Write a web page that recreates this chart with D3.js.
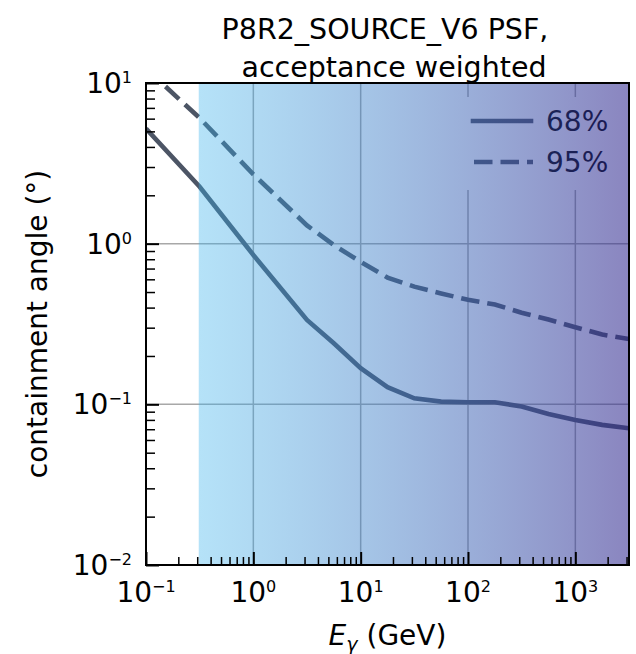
<!DOCTYPE html>
<html>
<head>
<meta charset="utf-8">
<script src="https://cdn.jsdelivr.net/npm/d3@7"></script>
<style>
body { margin: 0; background: #fff; }
svg { font-family: "DejaVu Sans", sans-serif; }
</style>
</head>
<body>
<div id="chart"></div>
<script>
// values (GeV, degrees)
var energy = [0.1, 0.316, 1, 3.16, 5.62, 10, 17.8, 31.6, 56.2, 100, 178, 316, 562, 1000, 1778, 3162];
var psf68 = [5.2, 2.26, 0.85, 0.335, 0.24, 0.168, 0.128, 0.109, 0.104, 0.103, 0.103, 0.097, 0.087, 0.080, 0.0745, 0.071];
var psf95 = [12.3, 6.05, 2.7, 1.3, 0.98, 0.77, 0.615, 0.54, 0.49, 0.447, 0.418, 0.372, 0.337, 0.302, 0.272, 0.255];

var xMajor = [0.1, 1, 10, 100, 1000],
    xExp = ["\u22121", "0", "1", "2", "3"];
var yMajor = [0.01, 0.1, 1, 10],
    yExp = ["\u22122", "\u22121", "0", "1"];

var bandStart = 0.31;   // shaded band begins here
var series = [
    { label: "68%", values: psf68, dash: null },
    { label: "95%", values: psf95, dash: "18.5,8" }
];

var W = 636, H = 654;
var margin = { top: 83, right: 7, bottom: 89, left: 146 },
    w = W - margin.left - margin.right,
    h = H - margin.top - margin.bottom;

var xScale = d3.scaleLog().domain([0.1, 3162]).range([0, w]),
    yScale = d3.scaleLog().domain([0.01, 10]).range([h, 0]);

var lineColor = "#4c5565";

var svg = d3.select("#chart").append("svg")
    .attr("width", W)
    .attr("height", H);

var defs = svg.append("defs");
defs.append("clipPath").attr("id", "plotclip")
    .append("rect").attr("width", w).attr("height", h);

var grad = defs.append("linearGradient")
    .attr("id", "band")
    .attr("gradientUnits", "userSpaceOnUse")
    .attr("x1", xScale(bandStart)).attr("x2", w)
    .attr("y1", 0).attr("y2", 0);
grad.append("stop").attr("offset", 0).attr("stop-color", "#37b1ec").attr("stop-opacity", 0.37);
grad.append("stop").attr("offset", 1).attr("stop-color", "#32298f").attr("stop-opacity", 0.57);

var g = svg.append("g")
    .attr("transform", "translate(" + margin.left + "," + margin.top + ")");

// grid
g.append("g").attr("class", "grid")
    .selectAll("line.v")
    .data(xMajor.slice(1))
    .enter().append("line")
    .attr("x1", function(d) { return xScale(d); })
    .attr("x2", function(d) { return xScale(d); })
    .attr("y1", 0).attr("y2", h)
    .attr("stroke", "#a8a8a8").attr("stroke-width", 1.5);

g.select(".grid")
    .selectAll("line.h")
    .data([0.1, 1])
    .enter().append("line")
    .attr("x1", 0).attr("x2", w)
    .attr("y1", function(d) { return yScale(d); })
    .attr("y2", function(d) { return yScale(d); })
    .attr("stroke", "#a8a8a8").attr("stroke-width", 1.5);

// legend box hides the grid behind it
var legX = 306, legY = 14;
g.append("rect")
    .attr("x", legX).attr("y", legY)
    .attr("width", 170).attr("height", 93)
    .attr("fill", "#fff");

// curves
var line = d3.line()
    .x(function(d) { return xScale(d[0]); })
    .y(function(d) { return yScale(d[1]); });

g.append("g").attr("clip-path", "url(#plotclip)")
    .selectAll("path")
    .data(series)
    .enter().append("path")
    .attr("d", function(s) { return line(energy.map(function(e, i) { return [e, s.values[i]]; })); })
    .attr("fill", "none")
    .attr("stroke", lineColor)
    .attr("stroke-width", 4.6)
    .attr("stroke-dasharray", function(s) { return s.dash; });

// legend
var leg = g.selectAll(".leg")
    .data(series)
    .enter().append("g")
    .attr("class", "leg")
    .attr("transform", function(d, i) { return "translate(" + (legX + 15) + "," + (legY + 24 + i * 41) + ")"; });

leg.append("line")
    .attr("x1", function(d) { return d.dash ? 7 : 6; })
    .attr("x2", function(d) { return d.dash ? 66 : 64; })
    .attr("stroke", lineColor)
    .attr("stroke-width", 4.6)
    .attr("stroke-linecap", function(d) { return d.dash ? "butt" : "square"; })
    .attr("stroke-dasharray", function(d) { return d.dash; });

leg.append("text")
    .attr("x", 79)
    .attr("y", 10)
    .attr("font-size", 28)
    .attr("fill", "#000")
    .text(function(d) { return d.label; });

// tinted band on top
g.append("rect")
    .attr("x", xScale(bandStart))
    .attr("width", w - xScale(bandStart))
    .attr("height", h)
    .attr("fill", "url(#band)");

// ticks
var xMinor = xScale.ticks().filter(function(d) { return xMajor.indexOf(d) < 0; }),
    yMinor = yScale.ticks().filter(function(d) { return yMajor.indexOf(d) < 0; });

function styleAxis(sel, width) {
    sel.select(".domain").remove();
    sel.selectAll("text").remove();
    sel.selectAll("line").attr("stroke", "#000").attr("stroke-width", width);
}

g.append("g")
    .attr("transform", "translate(0," + h + ")")
    .call(d3.axisBottom(xScale).tickValues(xMinor).tickSize(-8).tickFormat(""))
    .call(styleAxis, 1.5);
g.append("g")
    .attr("transform", "translate(0," + h + ")")
    .call(d3.axisBottom(xScale).tickValues(xMajor).tickSize(-13).tickFormat(""))
    .call(styleAxis, 2);
g.append("g")
    .call(d3.axisLeft(yScale).tickValues(yMinor).tickSize(-9).tickFormat(""))
    .call(styleAxis, 1.5);
g.append("g")
    .call(d3.axisLeft(yScale).tickValues(yMajor).tickSize(-13).tickFormat(""))
    .call(styleAxis, 2);

g.append("rect")
    .attr("width", w).attr("height", h)
    .attr("fill", "none")
    .attr("stroke", "#000")
    .attr("stroke-width", 2);

// tick labels
var xl = g.selectAll(".xl")
    .data(xMajor)
    .enter().append("text")
    .attr("class", "xl")
    .attr("x", function(d) { return xScale(d); })
    .attr("y", h + 37)
    .attr("text-anchor", "middle")
    .attr("font-size", 28);
xl.append("tspan").text("10");
xl.append("tspan").attr("dy", -10).attr("font-size", 16)
    .text(function(d, i) { return xExp[i]; });

var yl = g.selectAll(".yl")
    .data(yMajor)
    .enter().append("text")
    .attr("class", "yl")
    .attr("x", -14)
    .attr("y", function(d) { return yScale(d) + 10; })
    .attr("text-anchor", "end")
    .attr("font-size", 28);
yl.append("tspan").text("10");
yl.append("tspan").attr("dy", -10).attr("font-size", 16)
    .text(function(d, i) { return yExp[i]; });

// axis labels
var xlab = svg.append("text")
    .attr("x", margin.left + w / 2)
    .attr("y", 645)
    .attr("text-anchor", "middle")
    .attr("font-size", 28);
xlab.append("tspan").attr("font-style", "italic").text("E");
xlab.append("tspan").attr("font-style", "italic").attr("font-size", 19).attr("dy", 6).text("\u03b3");
xlab.append("tspan").attr("dy", -6).text(" (GeV)");

svg.append("text")
    .attr("transform", "translate(47," + (margin.top + h / 2) + ") rotate(-90)")
    .attr("text-anchor", "middle")
    .attr("font-size", 28)
    .text("containment angle (\u00b0)");

// title
svg.append("text")
    .attr("x", 385)
    .attr("y", 39)
    .attr("text-anchor", "middle")
    .attr("font-size", 28.5)
    .text("P8R2_SOURCE_V6 PSF,");
svg.append("text")
    .attr("x", 394)
    .attr("y", 77)
    .attr("text-anchor", "middle")
    .attr("font-size", 28.5)
    .text("acceptance weighted");
</script>
</body>
</html>
